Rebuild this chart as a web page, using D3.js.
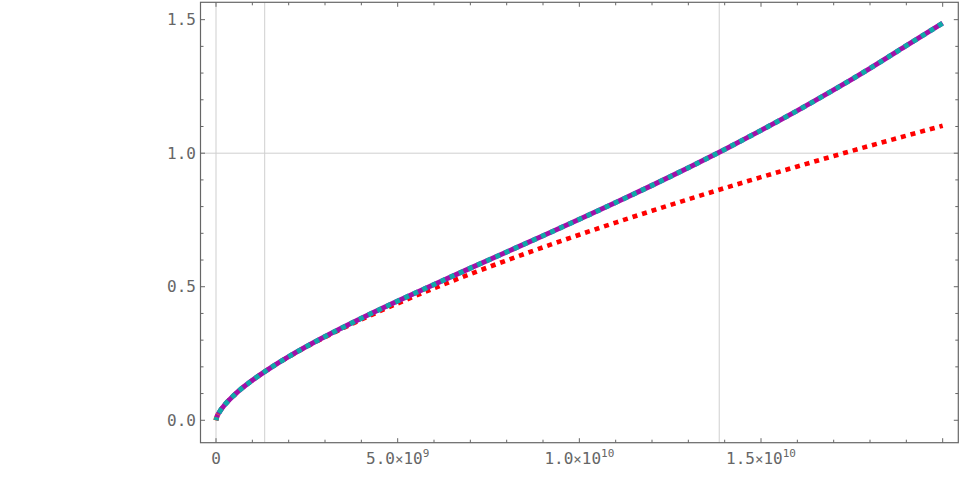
<!DOCTYPE html>
<html>
<head>
<meta charset="utf-8">
<script src="https://cdn.jsdelivr.net/npm/d3@7"></script>
<style>
  html, body { margin: 0; padding: 0; background: #fff; }
  svg { display: block; }
</style>
</head>
<body>
<svg id="chart" width="960" height="503"></svg>
<script>
// ---- data (time in years, scale factor a) ----
const timeYears = [0, 0.02e9, 0.1e9, 0.25e9, 0.5e9, 1e9, 1.5e9, 2e9, 3e9, 4e9, 5e9, 6e9, 7e9, 8e9, 9e9, 10e9,
  11e9, 12e9, 13e9, 14e9, 15e9, 16e9, 17e9, 18e9, 19e9, 20e9];
const aLambdaCDM = [0, 0.0110, 0.0322, 0.0593, 0.0942, 0.1497, 0.1963, 0.2382, 0.3134, 0.3819, 0.4464, 0.5086,
  0.5696, 0.6302, 0.6910, 0.7525, 0.8152, 0.8795, 0.9457, 1.0142, 1.0854, 1.1595, 1.2369, 1.3179, 1.4028, 1.4870];
const aMatterOnly = [0, 0.0110, 0.0322, 0.0594, 0.0943, 0.1497, 0.1961, 0.2376, 0.3113, 0.3771, 0.4376, 0.4942,
  0.5477, 0.5986, 0.6475, 0.6947, 0.7402, 0.7844, 0.8274, 0.8694, 0.9103, 0.9503, 0.9895, 1.0279, 1.0656, 1.1027];
const earlyTime = [0, 0.005e9, 0.01e9, 0.02e9, 0.04e9, 0.06e9];
const aEarly = [0, 0.0060, 0.0085, 0.0125, 0.0180, 0.0230];

const xMajorTicks = [0, 5e9, 1e10, 1.5e10, 2e10];
const xTickLabels = [["0", null], ["5.0", "9"], ["1.0", "10"], ["1.5", "10"], ["", ""]];
const yMajorTicks = [0, 0.5, 1.0, 1.5];
const yTickLabels = ["0.0", "0.5", "1.0", "1.5"];
const xGridLines = [0, 1.34e9, 1.385e10];
const yGridLines = [1.0];

// ---- layout ----
const svg = d3.select("#chart");
const L = 200.5, R = 958.3, T = 2.3, B = 442.7;
const x = d3.scaleLinear().domain([-0.427e9, 20.43e9]).range([L, R]);
const y = d3.scaleLinear().domain([-0.084, 1.565]).range([B, T]);
const frameColor = "#666666";
const font = "'DejaVu Sans Mono', monospace";

// grid lines
const g = svg.append("g");
g.selectAll("line.vg").data(xGridLines).enter().append("line")
  .attr("x1", d => x(d)).attr("x2", d => x(d)).attr("y1", T).attr("y2", B)
  .attr("stroke", "#cfcfcf").attr("stroke-width", 1);
g.selectAll("line.hg").data(yGridLines).enter().append("line")
  .attr("x1", L).attr("x2", R).attr("y1", d => y(d)).attr("y2", d => y(d))
  .attr("stroke", "#cfcfcf").attr("stroke-width", 1);

// curves
const line = d3.line().x(d => x(d[0])).y(d => y(d[1])).curve(d3.curveMonotoneX);
const ptsL = timeYears.map((t, i) => [t, aLambdaCDM[i]]);
const ptsM = timeYears.map((t, i) => [t, aMatterOnly[i]]);
const ptsE = earlyTime.map((t, i) => [t, aEarly[i]]);

svg.append("path").attr("d", line(ptsM)).attr("fill", "none")
  .attr("stroke", "#ff0000").attr("stroke-width", 4.6).attr("stroke-dasharray", "5,5");
svg.append("path").attr("d", line(ptsL)).attr("fill", "none")
  .attr("stroke", "#a010a8").attr("stroke-width", 5);
svg.append("path").attr("d", line(ptsE)).attr("fill", "none")
  .attr("stroke", "#ff8000").attr("stroke-width", 5).attr("stroke-dasharray", "3,3");
svg.append("path").attr("d", line(ptsL)).attr("fill", "none")
  .attr("stroke", "#10a8a8").attr("stroke-width", 5).attr("stroke-dasharray", "5,5")
  .attr("stroke-dashoffset", 2);

// frame
svg.append("rect").attr("x", L).attr("y", T).attr("width", R - L).attr("height", B - T)
  .attr("fill", "none").attr("stroke", frameColor).attr("stroke-width", 1.2);

// ticks
const xMinor = d3.range(0, 20.5e9, 1e9);
const yMinor = d3.range(0, 1.56, 0.1).map(v => +v.toFixed(2));
const tg = svg.append("g").attr("stroke", frameColor).attr("stroke-width", 1);
xMinor.forEach(v => {
  const major = Math.abs(v % 5e9) < 1;
  const len = major ? 4.5 : 3;
  tg.append("line").attr("x1", x(v)).attr("x2", x(v)).attr("y1", B).attr("y2", B - len);
  tg.append("line").attr("x1", x(v)).attr("x2", x(v)).attr("y1", T).attr("y2", T + len);
});
yMinor.forEach(v => {
  const major = Math.abs((v * 10) % 5) < 1e-6;
  const len = major ? 4.5 : 3;
  tg.append("line").attr("x1", L).attr("x2", L + len).attr("y1", y(v)).attr("y2", y(v));
  tg.append("line").attr("x1", R).attr("x2", R - len).attr("y1", y(v)).attr("y2", y(v));
});

// x tick labels
xMajorTicks.forEach((v, i) => {
  const [mant, exp] = xTickLabels[i];
  if (!mant) return;
  const t = svg.append("text").attr("x", x(v)).attr("y", 464)
    .attr("text-anchor", "middle").attr("font-family", font).attr("font-size", 16)
    .attr("fill", frameColor);
  if (exp === null) {
    t.text(mant);
  } else {
    t.append("tspan").text(mant);
    t.append("tspan").attr("font-size", 14).text("×");
    t.append("tspan").text("10");
    t.append("tspan").attr("font-size", 11).attr("dy", -7).text(exp);
  }
});

// y tick labels
yMajorTicks.forEach((v, i) => {
  svg.append("text").attr("x", 196).attr("y", y(v)).attr("dy", "0.36em")
    .attr("text-anchor", "end").attr("font-family", font).attr("font-size", 16)
    .attr("fill", frameColor).text(yTickLabels[i]);
});
</script>
</body>
</html>
